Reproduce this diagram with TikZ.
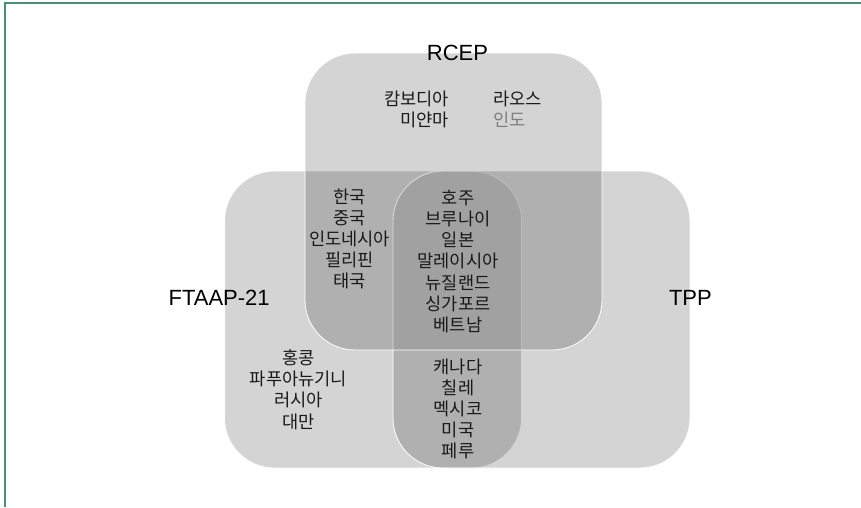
\documentclass[tikz,border=0pt]{standalone}
\usepackage{fontspec}
\setmainfont{Liberation Sans}
\newfontfamily\kr{Noto Sans CJK KR}
\usepackage{tikz}
\usetikzlibrary{positioning}
\definecolor{framegreen}{RGB}{72,146,116}
\definecolor{krtext}{RGB}{25,25,25}
\definecolor{faded}{RGB}{125,125,125}

\begin{document}
\begin{tikzpicture} [x=1pt,y=-1pt,
  setbox/.style={draw=white,line width=0.8pt,fill=black,fill opacity=0.17,
    minimum size=297pt,rounded corners=50pt,inner sep=0pt},
  setname/.style={text=black,font=\fontsize{22}{26}\selectfont},
  members/.style={text=krtext,align=center,inner sep=0pt,
    font={\kr\fontsize{17.6}{21.2}\selectfont}}]

  \useasboundingbox (0,0) rectangle (861,507);
  \draw[framegreen,line width=1.5pt] (5,507) |- (861,3);

  \node[setbox] (ftaap) at (373,319.5) {};
  \node[setbox] (tpp) at (541.5,319.5) {};
  \node[setbox] (rcep) at (453.5,201.5) {};

  \begin{scope}
    \clip[rounded corners=50pt] (ftaap.south west) rectangle (ftaap.north east);
    \clip[rounded corners=50pt] (tpp.south west) rectangle (tpp.north east);
    \fill[white,fill opacity=0.15,rounded corners=50pt] (rcep.south west) rectangle (rcep.north east);
  \end{scope}

  \node[setname] (1) at (rcep.north) [xshift=4pt] {RCEP};
  \node[setname] (2) at (ftaap.west) [xshift=-5pt,yshift=22pt] {FTAAP-21};
  \node[setname] (3) at (tpp.east) [yshift=22pt] {TPP};

  \node[members] (4) [anchor=east,align=right] at (449,109.5) {캄보디아\\미얀마};
  \node[members] (5) [anchor=west,align=left] at (493,109.5) {라오스\\\textcolor{faded}{인도}};
  \node[members] (6) at (349.5,239) {한국\\중국\\인도네시아\\필리핀\\태국};
  \node[members] (7) at (458,261.5) {호주\\브루나이\\일본\\말레이시아\\뉴질랜드\\싱가포르\\베트남};
  \node[members] (8) at (298.5,389.5) {홍콩\\파푸아뉴기니\\러시아\\대만};
  \node[members] (9) at (458,409) {캐나다\\칠레\\멕시코\\미국\\페루};
\end{tikzpicture}
\end{document}
